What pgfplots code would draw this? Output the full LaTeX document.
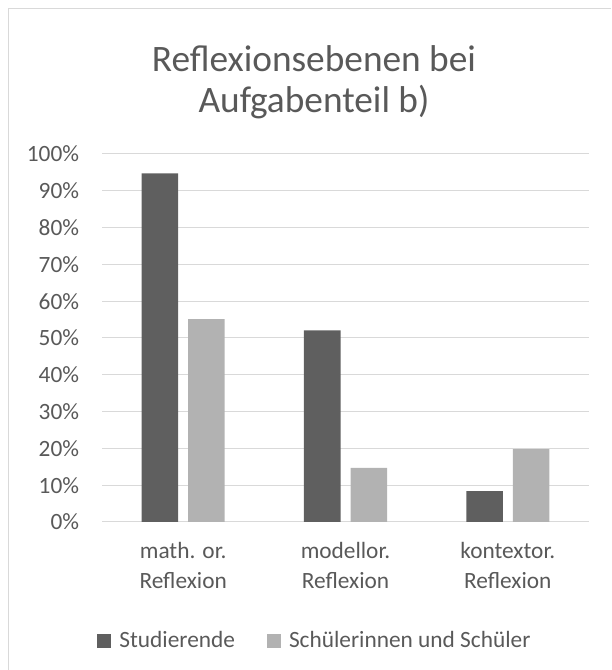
\documentclass[border=0pt]{standalone}
\usepackage{fontspec}
\setmainfont{Carlito}
\usepackage{pgfplots}
\pgfplotsset{compat=1.18}
\definecolor{darkbar}{RGB}{95,95,95}
\definecolor{lightbar}{RGB}{178,178,178}
\definecolor{gridgray}{RGB}{217,217,217}
\definecolor{txtgray}{RGB}{89,89,89}
\begin{document}
\begin{tikzpicture}
\useasboundingbox (0,0) rectangle (458.25pt,502.5pt);
\draw[gridgray, line width=0.75pt] (6.25pt,0) -- (6.25pt,496.25pt) -- (458.25pt,496.25pt);
\node[align=center, text=txtgray, font=\fontsize{28}{30.75}\selectfont] at (235.5pt,440.6pt) {Reflexionsebenen bei\\Aufgabenteil b)};
\begin{axis}[
  at={(76.5pt,111pt)}, anchor=south west,
  scale only axis, width=365.25pt, height=276pt,
  xmin=-0.5, xmax=2.5, ymin=0, ymax=100,
  ybar=7.5pt, bar width=27.4pt,
  axis line style={draw=none},
  major tick length=0pt,
  ymajorgrids, grid style={gridgray, line width=0.75pt},
  ytick={0,10,...,100},
  yticklabels={0\%,10\%,20\%,30\%,40\%,50\%,60\%,70\%,80\%,90\%,100\%},
  xtick={0,1,2},
  xticklabels={{math. or.\\Reflexion},{modellor.\\Reflexion},{kontextor.\\Reflexion}},
  /pgf/number format/assume math mode=true,
  ticklabel style={text=txtgray, font=\fontsize{17.5}{21}\selectfont},
  yticklabel style={anchor=east, inner sep=0pt, xshift=-17pt},
  xticklabel style={anchor=north, inner sep=0pt, align=center, yshift=-15pt, font=\fontsize{17.5}{22.5}\selectfont},
  legend columns=2,
  legend style={at={(axis description cs:0.438,-0.323)}, anchor=center, draw=none, fill=none,
    font=\fontsize{17.5}{21}\selectfont, text=txtgray,
    /tikz/every even column/.append style={column sep=22pt}},
]
\addplot[fill=darkbar, draw=none, legend image code/.code={\fill[darkbar] (0pt,-5.5pt) rectangle (10.5pt,5pt); \path (14.5pt,0pt);}] coordinates {(0,94.7) (1,52.1) (2,8.4)};
\addplot[fill=lightbar, draw=none, legend image code/.code={\fill[lightbar] (0pt,-5.5pt) rectangle (10.5pt,5pt); \path (14.5pt,0pt);}] coordinates {(0,55.1) (1,14.7) (2,19.8)};
\legend{Studierende,Schülerinnen und Schüler}
\end{axis}
\end{tikzpicture}
\end{document}
